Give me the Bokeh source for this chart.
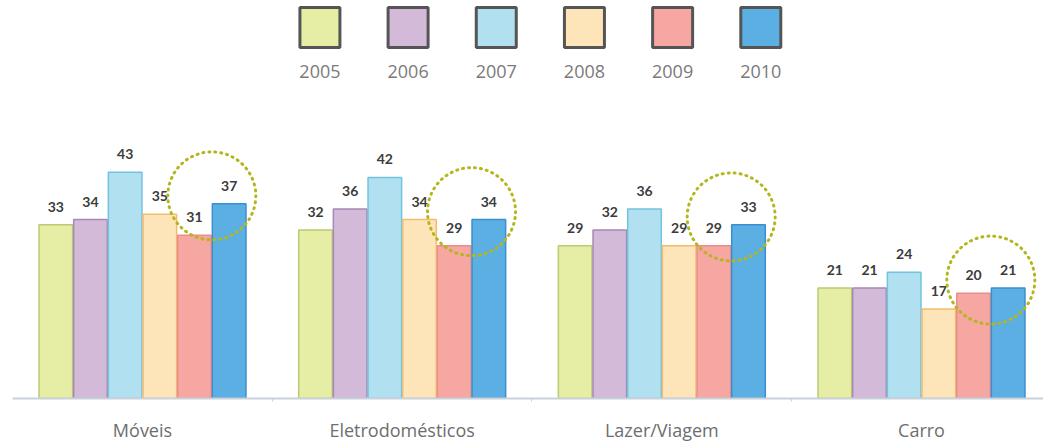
from bokeh.plotting import figure
from bokeh.models import ColumnDataSource, Range1d, FixedTicker
from bokeh.layouts import column
from bokeh.transform import dodge
from bokeh.core.properties import value
from bokeh.embed import file_html
from bokeh.resources import INLINE

categories = ["Móveis", "Eletrodomésticos", "Lazer/Viagem", "Carro"]
years = ["2005", "2006", "2007", "2008", "2009", "2010"]
v2005 = [33, 32, 29, 21]
v2006 = [34, 36, 32, 21]
v2007 = [43, 42, 36, 24]
v2008 = [35, 34, 29, 17]
v2009 = [31, 29, 29, 20]
v2010 = [37, 34, 33, 21]

fill_colors = ["#e6eda5", "#d3bad9", "#b1e0f0", "#fee4b9", "#f7a7a1", "#5bafe2"]
edge_colors = ["#b9cc72", "#a888b5", "#72c4de", "#f3bb70", "#ea8e89", "#3b8fd0"]

series = [v2005, v2006, v2007, v2008, v2009, v2010]
n = len(categories)
idx = list(range(n))
data = {"x": idx}
for y, s in zip(years, series):
    data["v" + y] = s
    data["t" + y] = [str(v) for v in s]
data["cy"] = [max(a, b) + 1.5 for a, b in zip(v2009, v2010)]
src = ColumnDataSource(data)

W = 1043
FONT = "Open Sans"

# ---- legend ----
leg = figure(width=W, height=98, x_range=Range1d(-3.4865, 8.2063), y_range=Range1d(98, 0),
             output_backend="svg", toolbar_location=None, min_border=0,
             x_axis_location=None, y_axis_location=None)
leg.grid.visible = False
leg.outline_line_color = None
lsrc = ColumnDataSource(dict(i=list(range(len(years))), year=years, color=fill_colors))
leg.scatter(x="i", y=27, size=40, marker="square", fill_color="color",
            line_color="#555555", line_width=3, source=lsrc)
leg.text(x="i", y=71, text="year", text_align="center", text_baseline="middle",
         text_font=value(FONT), text_font_size="18px", text_color="#7a7a7a", source=lsrc)

# ---- main chart ----
p = figure(width=W, height=346, x_range=Range1d(-0.5006, 3.4698), y_range=Range1d(0, 57),
           output_backend="svg", toolbar_location=None, y_axis_location=None,
           min_border_left=12, min_border_right=0, min_border_top=0, min_border_bottom=44)
p.grid.visible = False
p.outline_line_color = None

bw = 0.1335
for j, y in enumerate(years):
    off = (j - 2.5) * bw
    p.vbar(x=dodge("x", off, range=p.x_range), top="v" + y, bottom=0, width=bw * 0.97,
           fill_color=fill_colors[j], line_color=edge_colors[j], line_width=1.5, source=src)
    p.text(x=dodge("x", off, range=p.x_range), y="v" + y, text="t" + y, y_offset=-18,
           text_align="center", text_baseline="middle", text_font=value("Lato"),
           text_font_style="bold", text_font_size="14px", text_color="#3c3c3c", source=src)

p.scatter(x=dodge("x", 2 * bw, range=p.x_range), y="cy", size=88, marker="circle",
          fill_color=None, line_color="#b5b51c", line_width=3, line_dash="1 5",
          line_cap="round", source=src)

p.xaxis.ticker = FixedTicker(ticks=idx, minor_ticks=[i + 0.5 for i in idx[:-1]])
p.xaxis.major_label_overrides = {i: c for i, c in enumerate(categories)}
p.xaxis.major_tick_line_color = None
p.xaxis.major_tick_out = 0
p.xaxis.major_tick_in = 0
p.xaxis.minor_tick_out = 3
p.xaxis.minor_tick_in = 0
p.xaxis.minor_tick_line_color = "#c9d1da"
p.xaxis.axis_line_color = "#c9d1da"
p.xaxis.axis_line_width = 2
p.xaxis.major_label_standoff = 16
p.xaxis.major_label_text_font = FONT
p.xaxis.major_label_text_font_size = "18px"
p.xaxis.major_label_text_color = "#6e6e6e"

layout = column(leg, p, spacing=0)
open("out.html", "w").write(file_html(layout, INLINE))
